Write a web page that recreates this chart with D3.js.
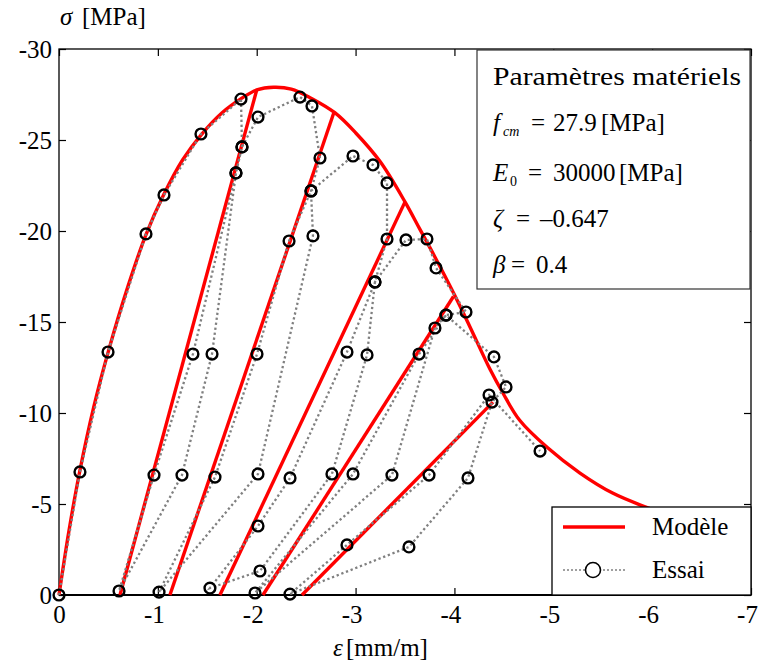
<!DOCTYPE html>
<html><head><meta charset="utf-8">
<script src="https://cdn.jsdelivr.net/npm/d3@7"></script>
<style>
body{margin:0;background:#fff}
svg{display:block}
text{font-family:"Liberation Serif","DejaVu Serif",serif;fill:#000}
</style>
</head><body>
<svg id="c" width="758" height="666"></svg>
<script>
// ---- tick labels ----
const xTicks = [0, -1, -2, -3, -4, -5, -6, -7];
const yTicks = [0, -5, -10, -15, -20, -25, -30];

// ---- Modèle: envelope curve (strain mm/m, stress MPa) ----
const envStrain = [0, -0.1, -0.21, -0.35, -0.5, -0.7, -0.88, -1.06, -1.25, -1.44, -1.65, -1.85, -2.0, -2.17, -2.35, -2.55, -2.79, -3.0, -3.25, -3.5, -3.65, -3.8, -4.0, -4.16, -4.36, -4.49, -4.66, -4.94, -5.27, -5.6, -5.95, -6.3, -6.65, -7.0];
const envStress = [0, -3.5, -6.8, -10.3, -13.4, -17.0, -19.8, -22.0, -23.9, -25.3, -26.5, -27.3, -27.75, -27.9, -27.8, -27.3, -26.5, -25.4, -23.8, -21.6, -20.1, -18.6, -16.5, -14.7, -12.4, -11.1, -9.6, -8.1, -6.7, -5.6, -4.8, -4.1, -3.6, -3.2];

// ---- Modèle: unloading / reloading lines ----
const unlResidual = [-0.617, -1.122, -1.628, -2.063, -2.458];
const unlTopStrain = [-2.0, -2.78, -3.5, -3.99, -4.39];
const unlTopStress = [-27.75, -26.5, -21.6, -16.4, -10.6];

// ---- Essai: measured points, in test order ----
const essaiStrain = [0, -0.212, -0.496, -0.880, -1.062, -1.436, -1.841, -1.851, -1.790, -1.548, -1.244, -0.607, -0.961, -1.355, -1.790, -1.851, -2.013, -2.438, -2.559,
  -2.640, -2.549, -2.569, -2.013, -1.012, -1.578, -2.003, -2.327, -2.549, -2.974, -3.176, -3.318,
  -3.318, -3.196, -3.116, -2.761, -2.033, -1.527, -2.013, -2.337, -2.913, -3.196, -3.510, -3.722, -3.814,
  -4.117, -3.915, -3.803, -3.368, -1.983, -2.974, -3.642, -3.915, -4.400, -4.522,
  -4.380, -4.137, -3.540, -2.337, -2.913, -3.743, -4.350, -4.866];
const essaiStress = [0, -6.76, -13.35, -19.84, -21.98, -25.33, -27.25, -24.62, -23.19, -13.24, -6.59, -0.22, -6.59, -13.24, -23.19, -24.62, -26.26, -27.36, -26.87,
  -24.01, -22.20, -19.73, -6.65, -0.16, -6.48, -13.24, -19.45, -22.20, -24.12, -23.63, -22.64,
  -19.56, -17.20, -13.19, -6.65, -1.32, -0.38, -3.79, -6.43, -13.35, -17.20, -19.51, -19.56, -17.97,
  -15.55, -15.38, -14.67, -6.59, -0.11, -6.65, -13.24, -15.38, -13.08, -11.43,
  -10.60, -6.43, -2.64, -0.05, -2.75, -6.59, -10.99, -7.91];

// ---- texts ----
const yTitle = ["σ", "[MPa]"];
const xTitle = ["ε", "[mm/m]"];
const boxTitle = "Paramètres matériels";
const legendLabels = ["Modèle", "Essai"];

const FONT = '"Liberation Serif","DejaVu Serif",serif';
const svg = d3.select("#c");
const L = 59, R = 751, T = 49, B = 595;
const x = d3.scaleLinear().domain([0, -7]).range([L, R]);
const y = d3.scaleLinear().domain([0, -30]).range([B, T]);

// axes
const fmt = d => String(d);
const gB = svg.append("g").attr("transform", `translate(0,${B})`)
  .call(d3.axisBottom(x).tickValues(xTicks).tickSize(-7).tickPadding(10).tickFormat(fmt));
const gL = svg.append("g").attr("transform", `translate(${L},0)`)
  .call(d3.axisLeft(y).tickValues(yTicks).tickSize(-7).tickPadding(6).tickFormat(fmt));
const gT = svg.append("g").attr("transform", `translate(0,${T})`)
  .call(d3.axisTop(x).tickValues(xTicks).tickSize(-7).tickFormat(""));
const gR = svg.append("g").attr("transform", `translate(${R},0)`)
  .call(d3.axisRight(y).tickValues(yTicks).tickSize(-7).tickFormat(""));
[gB, gL, gT, gR].forEach(g => {
  g.attr("font-family", FONT);
  g.select(".domain").remove();
  g.selectAll(".tick line").attr("stroke", "#000").attr("stroke-width", 1.2);
  g.selectAll("text").style("font-family", FONT).style("font-size", "25px").attr("fill", "#000");
});
gB.selectAll(".tick text").attr("dx", d => d === 0 ? 0 : -4).attr("dy", "0.72em");
gL.selectAll(".tick text").attr("dx", -1);

// frame
svg.append("rect").attr("x", L).attr("y", T).attr("width", R - L).attr("height", B - T)
  .attr("fill", "none").attr("stroke", "#000").attr("stroke-width", 1.3);
svg.append("line").attr("x1", L).attr("x2", R).attr("y1", B).attr("y2", B).attr("stroke", "#000").attr("stroke-width", 2.2);

// model
const lineSmooth = d3.line().x(d => x(d[0])).y(d => y(d[1])).curve(d3.curveCatmullRom.alpha(0.5));
const lineStraight = d3.line().x(d => x(d[0])).y(d => y(d[1]));
svg.append("path").datum(envStrain.map((s, i) => [s, envStress[i]]))
  .attr("d", lineSmooth).attr("fill", "none")
  .attr("stroke", "#ff0000").attr("stroke-width", 3.4).attr("stroke-linejoin", "round");
unlResidual.forEach((r, i) => {
  svg.append("path").datum([[r, 0], [unlTopStrain[i], unlTopStress[i]]])
    .attr("d", lineStraight).attr("fill", "none").attr("stroke", "#ff0000").attr("stroke-width", 3.4);
});

// essai
const pts = essaiStrain.map((s, i) => [s, essaiStress[i]]);
svg.append("path").datum(pts).attr("d", lineStraight).attr("fill", "none")
  .attr("stroke", "#808080").attr("stroke-width", 2.3).attr("stroke-dasharray", "2.3,2.7");
svg.append("g").selectAll("circle").data(pts).join("circle")
  .attr("cx", d => x(d[0])).attr("cy", d => y(d[1])).attr("r", 5.4)
  .attr("fill", "none").attr("stroke", "#000").attr("stroke-width", 2.4);

// axis titles
const yt = svg.append("text").attr("x", 60).attr("y", 25).style("font-size", "25px").style("font-family", FONT);
yt.append("tspan").attr("font-style", "italic").text(yTitle[0]);
yt.append("tspan").attr("x", 82).text(yTitle[1]);
const xt = svg.append("text").attr("x", 333).attr("y", 656).style("font-size", "25px").style("font-family", FONT);
xt.append("tspan").attr("font-style", "italic").text(xTitle[0]);
xt.append("tspan").attr("x", 346).text(xTitle[1]);

// parameter box
svg.append("rect").attr("x", 477).attr("y", 50).attr("width", 273).attr("height", 239)
  .attr("fill", "#fff").attr("stroke", "#333").attr("stroke-width", 1.2);
const fs = "25px";
svg.append("text").attr("x", 493).attr("y", 85).style("font-size", fs).style("font-family", FONT)
  .attr("textLength", 248).attr("lengthAdjust", "spacingAndGlyphs").text(boxTitle);
function row(yy, parts) {
  parts.forEach(p => {
    const t = svg.append("text").attr("x", p.x).attr("y", yy + (p.dy || 0))
      .style("font-size", p.fs || fs).style("font-family", FONT);
    if (p.it) t.attr("font-style", "italic");
    t.text(p.t);
  });
}
row(131, [{x: 493, t: "f", it: 1}, {x: 503, t: "cm", it: 1, fs: "14px", dy: 5}, {x: 531, t: "="}, {x: 553, t: "27.9"}, {x: 601, t: "[MPa]"}]);
row(181, [{x: 493, t: "E", it: 1}, {x: 510, t: "0", fs: "14px", dy: 5}, {x: 528, t: "="}, {x: 553, t: "30000"}, {x: 619, t: "[MPa]"}]);
row(227, [{x: 493, t: "ζ", it: 1}, {x: 516, t: "="}, {x: 540, t: "–0.647"}]);
row(273, [{x: 493, t: "β", it: 1}, {x: 511, t: "="}, {x: 536, t: "0.4"}]);

// legend
svg.append("rect").attr("x", 552).attr("y", 507).attr("width", 199).attr("height", 88)
  .attr("fill", "#fff").attr("stroke", "#000").attr("stroke-width", 1.3);
svg.append("line").attr("x1", 563).attr("x2", 625).attr("y1", 527).attr("y2", 527)
  .attr("stroke", "#ff0000").attr("stroke-width", 3.4);
svg.append("line").attr("x1", 563).attr("x2", 625).attr("y1", 570).attr("y2", 570)
  .attr("stroke", "#808080").attr("stroke-width", 1.6).attr("stroke-dasharray", "2,2");
svg.append("circle").attr("cx", 593).attr("cy", 570).attr("r", 7.5)
  .attr("fill", "#fff").attr("stroke", "#000").attr("stroke-width", 1.6);
svg.append("text").attr("x", 652).attr("y", 535).style("font-size", "25px").style("font-family", FONT).text(legendLabels[0]);
svg.append("text").attr("x", 652).attr("y", 578).style("font-size", "25px").style("font-family", FONT).text(legendLabels[1]);
</script>
</body></html>
